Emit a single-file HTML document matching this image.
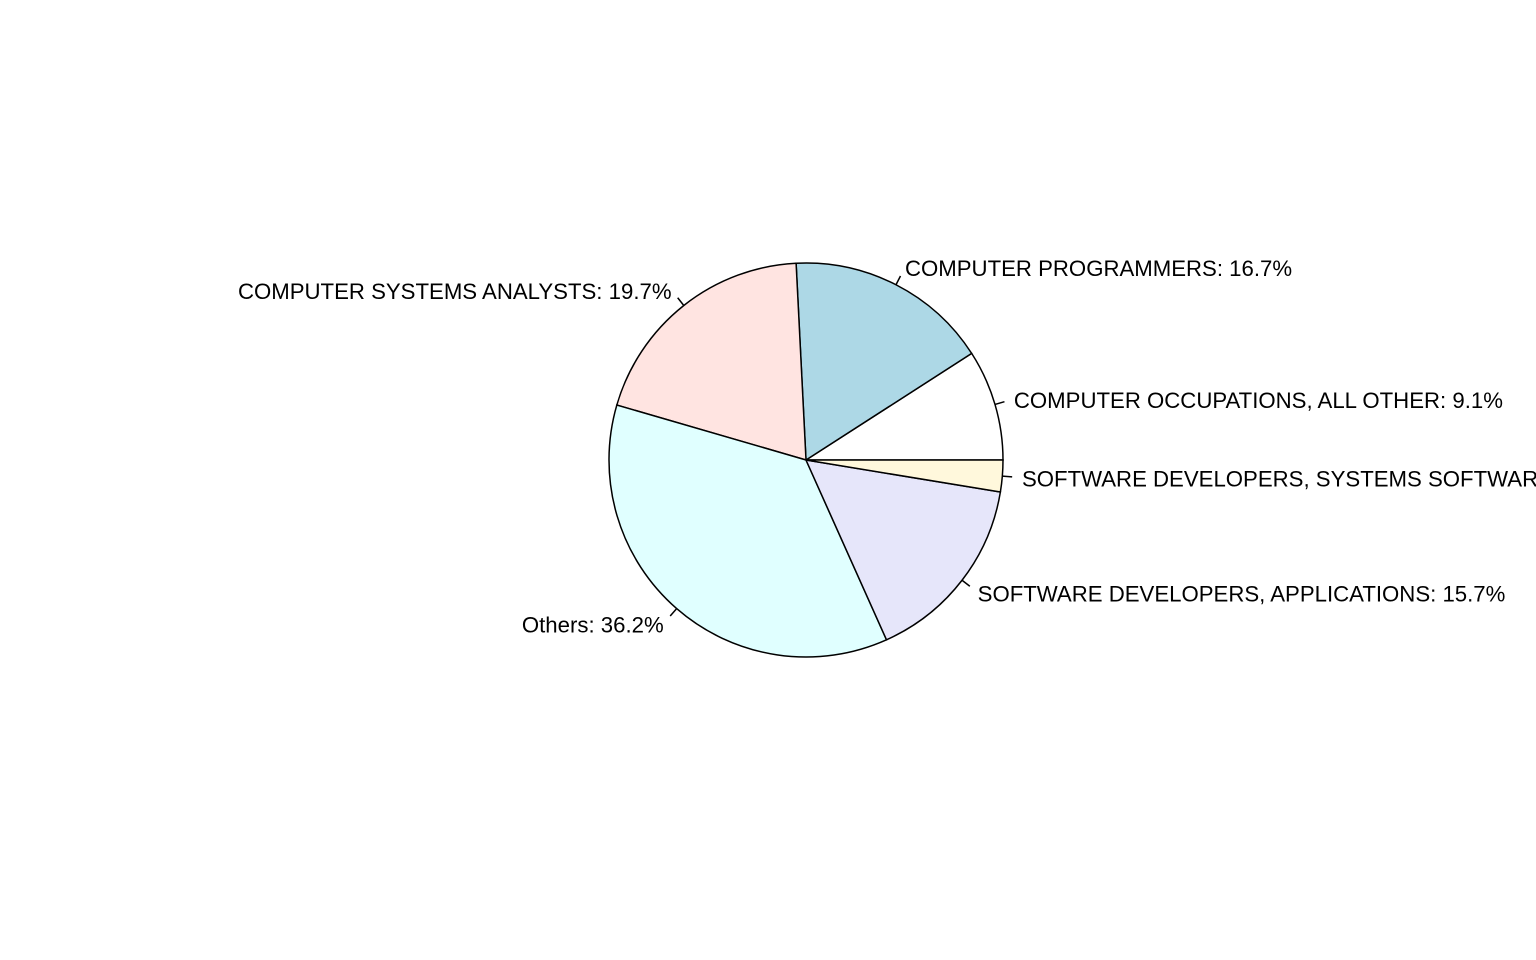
<!DOCTYPE html>
<html><head><meta charset="utf-8"><style>
html,body{margin:0;padding:0;background:#fff;}
svg{display:block;}
text{font-family:"Liberation Sans",Arial,sans-serif;font-size:22.2px;fill:#000;}
</style></head><body>
<svg id="chart" width="1536" height="960"></svg>
<script>
const labels = ["COMPUTER OCCUPATIONS, ALL OTHER","COMPUTER PROGRAMMERS","COMPUTER SYSTEMS ANALYSTS","Others","SOFTWARE DEVELOPERS, APPLICATIONS","SOFTWARE DEVELOPERS, SYSTEMS SOFTWARE"];
const values = [9.1,16.7,19.7,36.2,15.7,2.6];
const colors = ["#ffffff","#add8e6","#ffe4e1","#e0ffff","#e6e6fa","#fff8dc"];
const svg = document.getElementById('chart');
const NS = 'http://www.w3.org/2000/svg';
const cx = 806, cy = 460, r = 197;
const total = values.reduce((a,b)=>a+b,0);
function pt(a, k){ return [cx + Math.cos(a)*r*k, cy - Math.sin(a)*r*k]; }
let start = 0;
values.forEach((v,i)=>{
  const end = start + v/total*2*Math.PI;
  const p0 = pt(start,1), p1 = pt(end,1);
  const large = (end-start) > Math.PI ? 1 : 0;
  const path = document.createElementNS(NS,'path');
  path.setAttribute('d',`M${cx},${cy} L${p0[0]},${p0[1]} A${r},${r} 0 ${large} 0 ${p1[0]},${p1[1]} Z`);
  path.setAttribute('fill',colors[i]);
  path.setAttribute('stroke','#000');
  path.setAttribute('stroke-width','1.5');
  
  
  svg.appendChild(path);
  const mid = (start+end)/2;
  const t0 = pt(mid,1), t1 = pt(mid,1.05), tl = pt(mid,1.1);
  const line = document.createElementNS(NS,'line');
  line.setAttribute('x1',t0[0]);line.setAttribute('y1',t0[1]);
  line.setAttribute('x2',t1[0]);line.setAttribute('y2',t1[1]);
  line.setAttribute('stroke','#000');line.setAttribute('stroke-width','1.5');
  
  
  svg.appendChild(line);
  const tx = document.createElementNS(NS,'text');
  tx.setAttribute('x',tl[0]);tx.setAttribute('y',tl[1]+1.5);
  tx.setAttribute('dominant-baseline','central');
  tx.setAttribute('text-anchor',Math.cos(mid)>0?'start':'end');
  tx.textContent = labels[i]+': '+v.toFixed(1)+'%';
  
  
  svg.appendChild(tx);
  start = end;
});
</script>
</body></html>
